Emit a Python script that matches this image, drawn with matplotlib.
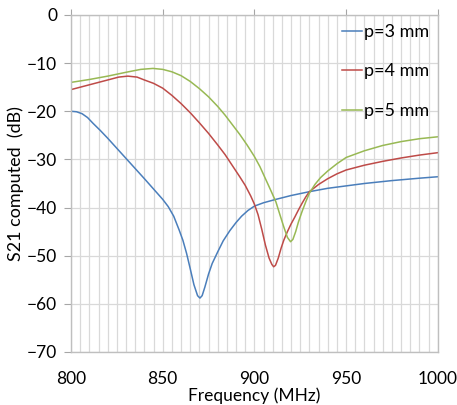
import matplotlib.pyplot as plt

# values
freq_p3 = [800, 803, 806, 809, 812, 816, 820, 830, 840, 850, 853, 856, 859, 861, 863, 865, 867,
           869, 870.3, 871.5, 873, 875, 877, 880, 883, 886.6, 890, 893, 896.5, 900, 905, 911.7,
           920, 930, 940, 950, 960, 975, 990, 1000]
s21_p3 = [-20, -20.1, -20.5, -21.3, -22.5, -24, -25.6, -29.8, -34, -38.3, -39.8, -41.8, -44.7,
          -46.8, -49.5, -52.7, -56, -58.3, -58.8, -58.3, -56.5, -53.8, -51.6, -49.2, -46.9, -44.8,
          -43.1, -41.8, -40.6, -39.7, -39, -38.3, -37.5, -36.7, -36, -35.5, -35, -34.4, -33.9, -33.6]

freq_p4 = [800, 810, 820, 826, 831, 836, 840, 845, 850, 855, 860, 865, 870, 875, 880, 884, 888,
           892, 895, 898, 900, 902, 904, 906, 908, 909.5, 910.5, 911.5, 913, 914.5, 916, 918,
           920, 922, 924, 926, 928, 930, 935, 940, 945, 950, 960, 970, 980, 990, 1000]
s21_p4 = [-15.5, -14.5, -13.5, -12.9, -12.7, -12.9, -13.5, -14.2, -15.2, -16.7, -18.4, -20.3,
          -22.4, -24.6, -27, -29, -31.3, -33.6, -35.4, -37.6, -39.3, -41.5, -44.5, -47.8, -50.5,
          -51.8, -52.3, -52, -50.5, -48.5, -46.8, -45, -43.4, -42, -40.5, -39.1, -37.8, -36.7,
          -35.2, -34, -33, -32.2, -31.2, -30.4, -29.7, -29.1, -28.6]

freq_p5 = [800, 810, 820, 830, 838, 844.7, 850, 855, 860, 865, 870, 875, 880, 884, 888, 892,
           896, 900, 903, 906, 909, 911.7, 914, 916, 918, 919.7, 921, 922.5, 924, 926, 928, 930,
           933, 936, 940, 945, 950, 960, 970, 980, 990, 1000]
s21_p5 = [-14, -13.4, -12.7, -11.9, -11.3, -11.1, -11.3, -11.8, -12.6, -13.8, -15.3, -17, -19,
          -20.8, -22.8, -24.8, -27, -29.4, -31.5, -34, -36.5, -38.8, -41.6, -44, -46.2, -47.1,
          -46.6, -45, -43, -40.8, -38.8, -37, -35.2, -33.8, -32.4, -30.9, -29.6, -28.2, -27.1,
          -26.3, -25.7, -25.3]

series = [
    ("p=3 mm", freq_p3, s21_p3, "#4a7ebb"),
    ("p=4 mm", freq_p4, s21_p4, "#be4b48"),
    ("p=5 mm", freq_p5, s21_p5, "#98b954"),
]

plt.rcParams['font.family'] = ['Lato', 'DejaVu Sans']

fig = plt.figure(figsize=(4.57, 4.05), dpi=100)
ax = fig.add_axes([0.1554, 0.1309, 0.8026, 0.8321])

for label, f, s, color in series:
    ax.plot(f, s, color=color, lw=1.1, label=label)

ax.set_xlim(800, 1000)
ax.set_ylim(-70, 0)
ax.set_xticks(range(800, 1001, 50))
ax.set_xticks(range(800, 1001, 5), minor=True)
ax.set_yticks(range(-70, 1, 10))
ax.grid(True, which='both', axis='x', color='#d9d9d9', lw=0.9)
ax.grid(True, which='major', axis='y', color='#d9d9d9', lw=0.9)
ax.set_axisbelow(True)

for sp in ax.spines.values():
    sp.set_color('#bfbfbf')
    sp.set_linewidth(1.0)

ax.tick_params(axis='y', direction='out', length=5, color='#a6a6a6', labelsize=12.5, pad=5)
ax.tick_params(axis='x', which='major', bottom=False, top=True, direction='out', length=4,
               color='#a6a6a6', labelsize=12.5, pad=10)
ax.tick_params(axis='x', which='minor', bottom=False, top=False)

ax.set_xlabel("Frequency (MHz)", fontsize=12.5, labelpad=0)
ax.set_ylabel("S21 computed  (dB)", fontsize=13, labelpad=2)

ax.legend(loc='upper right', frameon=False, fontsize=13, handlelength=1.1,
          handletextpad=0.1, labelspacing=1.3, borderaxespad=0.1)

fig.savefig("out.png", dpi=100)
